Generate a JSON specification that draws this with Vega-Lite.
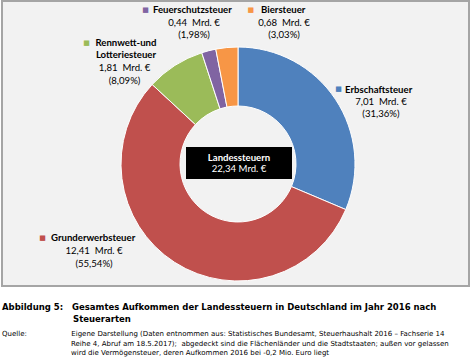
{
  "$schema": "https://vega.github.io/schema/vega-lite/v6.json",
  "width": 467,
  "height": 285,
  "padding": {"left": 2, "top": 1, "right": 5, "bottom": 71},
  "autosize": {"type": "none"},
  "background": "white",
  "title": {
    "text": ["Abbildung 5:\u00a0\u00a0\u00a0Gesamtes Aufkommen der Landessteuern in Deutschland im Jahr 2016 nach", "\u200b\u00a0\u00a0\u00a0\u00a0\u00a0\u00a0\u00a0\u00a0\u00a0\u00a0\u00a0\u00a0\u00a0\u00a0\u00a0\u00a0\u00a0\u00a0\u00a0\u00a0\u00a0\u00a0\u00a0\u00a0Steuerarten"],
    "subtitle": ["Quelle:\u00a0\u00a0\u00a0\u00a0\u00a0\u00a0\u00a0\u00a0\u00a0\u00a0\u00a0\u00a0\u00a0\u00a0\u00a0\u00a0\u00a0\u00a0\u00a0\u00a0Eigene Darstellung (Daten entnommen aus: Statistisches Bundesamt, Steuerhaushalt 2016 – Fachserie 14", "\u200b\u00a0\u00a0\u00a0\u00a0\u00a0\u00a0\u00a0\u00a0\u00a0\u00a0\u00a0\u00a0\u00a0\u00a0\u00a0\u00a0\u00a0\u00a0\u00a0\u00a0\u00a0\u00a0\u00a0\u00a0\u00a0\u00a0\u00a0\u00a0\u00a0\u00a0\u00a0Reihe 4, Abruf am 18.5.2017);\u00a0 abgedeckt sind die Flächenländer und die Stadtstaaten; außen vor gelassen", "\u200b\u00a0\u00a0\u00a0\u00a0\u00a0\u00a0\u00a0\u00a0\u00a0\u00a0\u00a0\u00a0\u00a0\u00a0\u00a0\u00a0\u00a0\u00a0\u00a0\u00a0\u00a0\u00a0\u00a0\u00a0\u00a0\u00a0\u00a0\u00a0\u00a0\u00a0\u00a0wird die Vermögensteuer, deren Aufkommen 2016 bei -0,2 Mio. Euro liegt"],
    "orient": "bottom",
    "anchor": "start",
    "frame": "group",
    "offset": -6,
    "font": "DejaVu Sans",
    "fontSize": 8.5,
    "fontWeight": "bold",
    "color": "#000000",
    "lineHeight": 12,
    "subtitleFont": "DejaVu Sans",
    "subtitleFontSize": 7,
    "subtitleColor": "#000000",
    "subtitleLineHeight": 9.5,
    "subtitlePadding": 7
  },
  "layer": [
    {
      "data": {"values": [{"panel": "Hintergrund"}]},
      "mark": {"type": "rect", "x": 0, "x2": "width", "y": 0, "y2": "height", "fill": "#f2f2f2", "stroke": "#a5a5a5", "strokeWidth": 2},
      "encoding": {}
    },
    {
      "data": {
        "values": [
          {"steuer": "Erbschaftsteuer", "titel": "Erbschaftsteuer", "mrd": 7.01, "detail": "7,01\u00a0 Mrd. €\n(31,36%)", "rang": 1},
          {"steuer": "Grunderwerbsteuer", "titel": "Grunderwerbsteuer", "mrd": 12.41, "detail": "12,41\u00a0 Mrd. €\n(55,54%)", "rang": 2},
          {"steuer": "Rennwett- und Lotteriesteuer", "titel": "Rennwett-und\nLotteriesteuer", "mrd": 1.81, "detail": "1,81\u00a0 Mrd. €\n(8,09%)", "rang": 3},
          {"steuer": "Feuerschutzsteuer", "titel": "Feuerschutzsteuer", "mrd": 0.44, "detail": "0,44\u00a0 Mrd. €\n(1,98%)", "rang": 4},
          {"steuer": "Biersteuer", "titel": "Biersteuer", "mrd": 0.68, "detail": "0,68\u00a0 Mrd. €\n(3,03%)", "rang": 5}
        ]
      },
      "encoding": {
        "theta": {"field": "mrd", "type": "quantitative", "stack": true},
        "order": {"field": "rang", "type": "quantitative"},
        "color": {
          "field": "steuer",
          "type": "nominal",
          "legend": null,
          "scale": {
            "domain": ["Erbschaftsteuer", "Grunderwerbsteuer", "Rennwett- und Lotteriesteuer", "Feuerschutzsteuer", "Biersteuer"],
            "range": ["#4f81bd", "#c0504d", "#9bbb59", "#8064a2", "#f79646"]
          }
        }
      },
      "layer": [
        {
          "mark": {"type": "arc", "innerRadius": 58, "outerRadius": 117, "stroke": "#ffffff", "strokeWidth": 1, "x": {"expr": "width/2+2.5"}, "y": {"expr": "height/2+20.5"}}
        },
        {
          "mark": {"type": "text", "radius": 140, "font": "DejaVu Sans", "fontSize": 7, "align": "center", "baseline": "middle", "dx": -16, "dy": 2.5, "x": {"expr": "width/2+2.5"}, "y": {"expr": "height/2+20.5"}},
          "encoding": {"text": {"condition": {"test": "datum.rang == 1", "value": "■"}, "value": ""}}
        },
        {
          "mark": {"type": "text", "radius": 140, "font": "Lato", "fontSize": 9.6, "fontWeight": "bold", "align": "left", "baseline": "middle", "dx": -9.7, "dy": 3.4, "x": {"expr": "width/2+2.5"}, "y": {"expr": "height/2+20.5"}},
          "encoding": {"text": {"condition": {"test": "datum.rang == 1", "field": "titel"}, "value": ""}, "color": {"value": "#000000"}}
        },
        {
          "mark": {"type": "text", "radius": 140, "font": "Lato", "fontSize": 9.6, "lineBreak": "\n", "lineHeight": 12.3, "align": "center", "baseline": "middle", "dx": 26.3, "dy": 15.2, "x": {"expr": "width/2+2.5"}, "y": {"expr": "height/2+20.5"}},
          "encoding": {"text": {"condition": {"test": "datum.rang == 1", "field": "detail"}, "value": ""}, "color": {"value": "#000000"}}
        },
        {
          "mark": {"type": "text", "radius": 140, "font": "DejaVu Sans", "fontSize": 7, "align": "center", "baseline": "middle", "dx": -119.5, "dy": -43.8, "x": {"expr": "width/2+2.5"}, "y": {"expr": "height/2+20.5"}},
          "encoding": {"text": {"condition": {"test": "datum.rang == 2", "value": "■"}, "value": ""}}
        },
        {
          "mark": {"type": "text", "radius": 140, "font": "Lato", "fontSize": 9.6, "fontWeight": "bold", "align": "left", "baseline": "middle", "dx": -111, "dy": -43.5, "x": {"expr": "width/2+2.5"}, "y": {"expr": "height/2+20.5"}},
          "encoding": {"text": {"condition": {"test": "datum.rang == 2", "field": "titel"}, "value": ""}, "color": {"value": "#000000"}}
        },
        {
          "mark": {"type": "text", "radius": 140, "font": "Lato", "fontSize": 9.6, "lineBreak": "\n", "lineHeight": 12.3, "align": "center", "baseline": "middle", "dx": -68, "dy": -30.2, "x": {"expr": "width/2+2.5"}, "y": {"expr": "height/2+20.5"}},
          "encoding": {"text": {"condition": {"test": "datum.rang == 2", "field": "detail"}, "value": ""}, "color": {"value": "#000000"}}
        },
        {
          "mark": {"type": "text", "radius": 140, "font": "DejaVu Sans", "fontSize": 7, "align": "center", "baseline": "middle", "dx": -76, "dy": -3.4, "x": {"expr": "width/2+2.5"}, "y": {"expr": "height/2+20.5"}},
          "encoding": {"text": {"condition": {"test": "datum.rang == 3", "value": "■"}, "value": ""}}
        },
        {
          "mark": {"type": "text", "radius": 140, "font": "Lato", "fontSize": 9.6, "fontWeight": "bold", "lineBreak": "\n", "lineHeight": 12.3, "align": "center", "baseline": "middle", "dx": -36.6, "dy": -3.2, "x": {"expr": "width/2+2.5"}, "y": {"expr": "height/2+20.5"}},
          "encoding": {"text": {"condition": {"test": "datum.rang == 3", "field": "titel"}, "value": ""}, "color": {"value": "#000000"}}
        },
        {
          "mark": {"type": "text", "radius": 140, "font": "Lato", "fontSize": 9.6, "lineBreak": "\n", "lineHeight": 12.3, "align": "center", "baseline": "middle", "dx": -38, "dy": 22.4, "x": {"expr": "width/2+2.5"}, "y": {"expr": "height/2+20.5"}},
          "encoding": {"text": {"condition": {"test": "datum.rang == 3", "field": "detail"}, "value": ""}, "color": {"value": "#000000"}}
        },
        {
          "mark": {"type": "text", "radius": 140, "font": "DejaVu Sans", "fontSize": 7, "align": "center", "baseline": "middle", "dx": -57.4, "dy": -18.5, "x": {"expr": "width/2+2.5"}, "y": {"expr": "height/2+20.5"}},
          "encoding": {"text": {"condition": {"test": "datum.rang == 4", "value": "■"}, "value": ""}}
        },
        {
          "mark": {"type": "text", "radius": 140, "font": "Lato", "fontSize": 9.6, "fontWeight": "bold", "align": "left", "baseline": "middle", "dx": -50, "dy": -18.2, "x": {"expr": "width/2+2.5"}, "y": {"expr": "height/2+20.5"}},
          "encoding": {"text": {"condition": {"test": "datum.rang == 4", "field": "titel"}, "value": ""}, "color": {"value": "#000000"}}
        },
        {
          "mark": {"type": "text", "radius": 140, "font": "Lato", "fontSize": 9.6, "lineBreak": "\n", "lineHeight": 12.3, "align": "center", "baseline": "middle", "dx": -8.9, "dy": -5.5, "x": {"expr": "width/2+2.5"}, "y": {"expr": "height/2+20.5"}},
          "encoding": {"text": {"condition": {"test": "datum.rang == 4", "field": "detail"}, "value": ""}, "color": {"value": "#000000"}}
        },
        {
          "mark": {"type": "text", "radius": 140, "font": "DejaVu Sans", "fontSize": 7, "align": "center", "baseline": "middle", "dx": 26.2, "dy": -14.6, "x": {"expr": "width/2+2.5"}, "y": {"expr": "height/2+20.5"}},
          "encoding": {"text": {"condition": {"test": "datum.rang == 5", "value": "■"}, "value": ""}}
        },
        {
          "mark": {"type": "text", "radius": 140, "font": "Lato", "fontSize": 9.6, "fontWeight": "bold", "align": "left", "baseline": "middle", "dx": 36.4, "dy": -14.3, "x": {"expr": "width/2+2.5"}, "y": {"expr": "height/2+20.5"}},
          "encoding": {"text": {"condition": {"test": "datum.rang == 5", "field": "titel"}, "value": ""}, "color": {"value": "#000000"}}
        },
        {
          "mark": {"type": "text", "radius": 140, "font": "Lato", "fontSize": 9.6, "lineBreak": "\n", "lineHeight": 12.3, "align": "center", "baseline": "middle", "dx": 59.4, "dy": -1.6, "x": {"expr": "width/2+2.5"}, "y": {"expr": "height/2+20.5"}},
          "encoding": {"text": {"condition": {"test": "datum.rang == 5", "field": "detail"}, "value": ""}, "color": {"value": "#000000"}}
        }
      ]
    },
    {
      "data": {"values": [{"bezeichnung": "Landessteuern", "summe": "22,34 Mrd. €"}]},
      "layer": [
        {
          "mark": {"type": "point", "shape": "M-1,-0.302L1,-0.302L1,0.302L-1,0.302Z", "size": 11236, "filled": true, "color": "#000000", "opacity": 1, "strokeWidth": 0, "x": {"expr": "width/2+3.5"}, "y": {"expr": "height/2+19.5"}},
          "encoding": {}
        },
        {
          "mark": {"type": "text", "font": "Lato", "fontSize": 9.6, "fontWeight": "bold", "align": "center", "baseline": "middle", "color": "#ffffff", "x": {"expr": "width/2+3.5"}, "y": {"expr": "height/2+14"}},
          "encoding": {"text": {"field": "bezeichnung"}}
        },
        {
          "mark": {"type": "text", "font": "Lato", "fontSize": 9.6, "align": "center", "baseline": "middle", "color": "#ffffff", "x": {"expr": "width/2+3.5"}, "y": {"expr": "height/2+25.5"}},
          "encoding": {"text": {"field": "summe"}}
        }
      ]
    }
  ],
  "config": {
    "view": {"stroke": null},
    "legend": {"disable": true}
  }
}
